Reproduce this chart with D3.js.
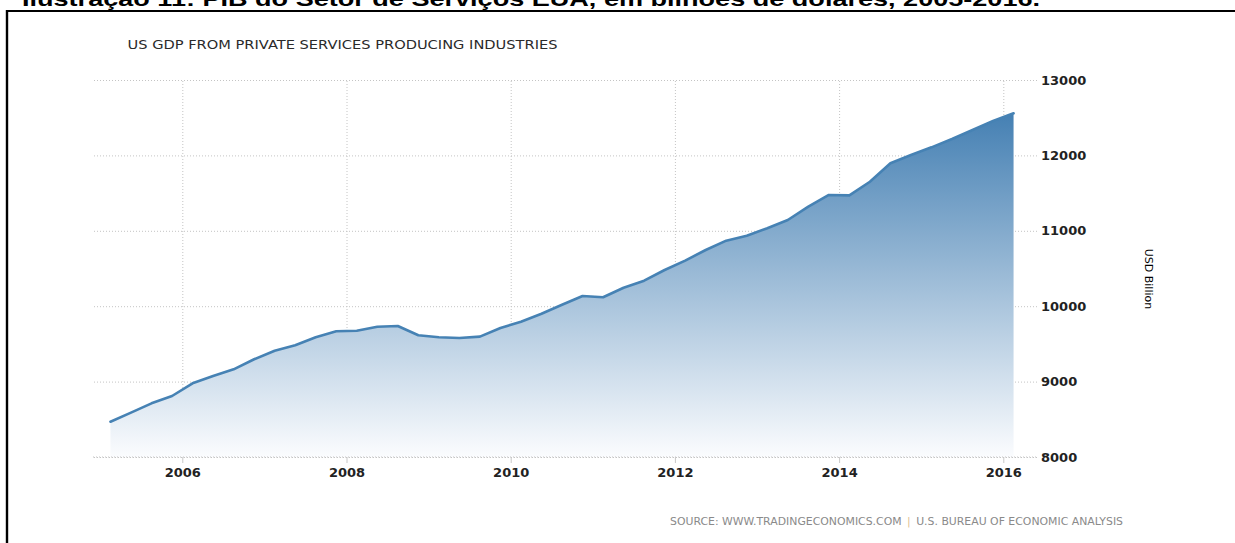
<!DOCTYPE html>
<html>
<head>
<meta charset="utf-8">
<script src="https://cdn.jsdelivr.net/npm/d3@7"></script>
<style>
  html, body { margin: 0; padding: 0; background: #ffffff; }
  svg { display: block; }
</style>
</head>
<body>
<svg id="chart" width="1235" height="543"></svg>
<script>
// ---------- DATA ----------
const periods = [
  "2005Q1","2005Q2","2005Q3","2005Q4",
  "2006Q1","2006Q2","2006Q3","2006Q4",
  "2007Q1","2007Q2","2007Q3","2007Q4",
  "2008Q1","2008Q2","2008Q3","2008Q4",
  "2009Q1","2009Q2","2009Q3","2009Q4",
  "2010Q1","2010Q2","2010Q3","2010Q4",
  "2011Q1","2011Q2","2011Q3","2011Q4",
  "2012Q1","2012Q2","2012Q3","2012Q4",
  "2013Q1","2013Q2","2013Q3","2013Q4",
  "2014Q1","2014Q2","2014Q3","2014Q4",
  "2015Q1","2015Q2","2015Q3","2015Q4",
  "2016Q1"
];
const gdpValues = [
  8468, 8588, 8712, 8809,
  8977, 9074, 9163, 9296,
  9410, 9481, 9588, 9667,
  9675, 9728, 9737, 9614,
  9588, 9578, 9596, 9711,
  9794, 9900, 10020, 10135,
  10118, 10245, 10338, 10480,
  10605, 10745, 10869, 10935,
  11033, 11143, 11320, 11475,
  11470, 11651, 11895, 12005,
  12107, 12218, 12337, 12456,
  12558
];
const xTickYears = [2006, 2008, 2010, 2012, 2014, 2016];
const yTickValues = [8000, 9000, 10000, 11000, 12000, 13000];

const captionText = "Ilustração 11: PIB do Setor de Serviços EUA, em bilhões de dólares, 2005-2016.";
const chartTitle = "US GDP FROM PRIVATE SERVICES PRODUCING INDUSTRIES";
const yAxisTitle = "USD Billion";
const sourceLeft = "SOURCE: WWW.TRADINGECONOMICS.COM";
const sourceSep = "|";
const sourceRight = "U.S. BUREAU OF ECONOMIC ANALYSIS";

// ---------- BUILD ----------
const data = periods.map((p, i) => {
  const yr = +p.slice(0, 4), q = +p.slice(5);
  return { t: yr + (q - 1) / 4 + 0.125, v: gdpValues[i] };
});

const svg = d3.select("#chart");
const plotLeft = 93, plotRight = 1037, plotTop = 80, plotBottom = 457;

const x = d3.scaleLinear().domain([2006, 2016]).range([182.3, 1003.3]);
const y = d3.scaleLinear().domain([8000, 13000]).range([plotBottom, plotTop]);

// Caption (clipped at top as in reference)
svg.append("text")
  .attr("x", 22).attr("y", 6)
  .attr("font-family", "Liberation Sans, Arial, sans-serif")
  .attr("font-weight", "bold")
  .attr("font-size", 21)
  .attr("fill", "#000")
  .attr("textLength", 1018)
  .attr("lengthAdjust", "spacingAndGlyphs")
  .text(captionText);

// Frame lines
svg.append("line").attr("x1", 6).attr("x2", 1235).attr("y1", 11).attr("y2", 11)
  .attr("stroke", "#000").attr("stroke-width", 2);
svg.append("line").attr("x1", 7).attr("x2", 7).attr("y1", 10).attr("y2", 543)
  .attr("stroke", "#000").attr("stroke-width", 2.4);

// Gradient
const maxV = d3.max(gdpValues);
const defs = svg.append("defs");
const grad = defs.append("linearGradient").attr("id", "areaGrad")
  .attr("gradientUnits", "userSpaceOnUse")
  .attr("x1", 0).attr("x2", 0).attr("y1", y(maxV)).attr("y2", plotBottom);
grad.append("stop").attr("offset", 0).attr("stop-color", "#4580b3");
grad.append("stop").attr("offset", 1).attr("stop-color", "#fbfcfe");

// Horizontal gridlines + y labels
const yAxis = d3.axisRight(y).tickValues(yTickValues)
  .tickSize(-(plotRight - plotLeft)).tickPadding(4).tickFormat(d3.format("d"));
const gy = svg.append("g").attr("transform", `translate(${plotRight},0)`).call(yAxis);
gy.select(".domain").remove();
gy.selectAll(".tick line").attr("stroke", "#c4c4c4").attr("stroke-dasharray", "1,2");
gy.selectAll(".tick text")
  .attr("font-family", "DejaVu Sans, Verdana, sans-serif")
  .attr("font-weight", "bold")
  .attr("font-size", 13)
  .attr("fill", "#222");

// Vertical gridlines
const xGrid = d3.axisBottom(x).tickValues(xTickYears).tickSize(-(plotBottom - plotTop)).tickFormat("");
const gxg = svg.append("g").attr("transform", `translate(0,${plotBottom})`).call(xGrid);
gxg.select(".domain").remove();
gxg.selectAll(".tick line").attr("stroke", "#c4c4c4").attr("stroke-dasharray", "1,2");

// Area + line
const area = d3.area().x(d => x(d.t)).y0(plotBottom).y1(d => y(d.v));
const line = d3.line().x(d => x(d.t)).y(d => y(d.v));
svg.append("path").datum(data).attr("d", area).attr("fill", "url(#areaGrad)");
svg.append("path").datum(data).attr("d", line)
  .attr("fill", "none").attr("stroke", "#4682b4").attr("stroke-width", 2.6)
  .attr("stroke-linejoin", "round").attr("stroke-linecap", "round");

// Bottom baseline (dotted) drawn over the area
svg.append("line").attr("x1", plotLeft).attr("x2", plotRight)
  .attr("y1", y(8000)).attr("y2", y(8000))
  .attr("stroke", "#c4c4c4").attr("stroke-dasharray", "1,2");

// X axis ticks + labels
const xAxis = d3.axisBottom(x).tickValues(xTickYears).tickSize(6).tickPadding(5).tickFormat(d3.format("d"));
const gx = svg.append("g").attr("transform", `translate(0,${plotBottom})`).call(xAxis);
gx.select(".domain").remove();
gx.selectAll(".tick line").attr("stroke", "#c8c8c8");
gx.selectAll(".tick text")
  .attr("font-family", "DejaVu Sans, Verdana, sans-serif")
  .attr("font-weight", "bold")
  .attr("font-size", 13)
  .attr("fill", "#222");

// Chart title
svg.append("text")
  .attr("x", 127.5).attr("y", 49)
  .attr("font-family", "DejaVu Sans, Verdana, sans-serif")
  .attr("font-size", 12.5)
  .attr("fill", "#2a2a2a")
  .attr("textLength", 430)
  .attr("lengthAdjust", "spacingAndGlyphs")
  .text(chartTitle);

// Y axis title (rotated)
svg.append("text")
  .attr("transform", "translate(1145,279) rotate(90)")
  .attr("text-anchor", "middle")
  .attr("font-family", "DejaVu Sans, Verdana, sans-serif")
  .attr("font-size", 11)
  .attr("fill", "#000")
  .text(yAxisTitle);

// Source line
const src = svg.append("text")
  .attr("x", 670).attr("y", 525)
  .attr("font-family", "DejaVu Sans, Verdana, sans-serif")
  .attr("font-size", 10)
  .attr("fill", "#8a8a8a");
src.append("tspan").text(sourceLeft);
src.append("tspan").attr("dx", 5).attr("fill", "#e0c090").text(sourceSep);
src.append("tspan").attr("dx", 5).text(sourceRight);
src.attr("textLength", 453).attr("lengthAdjust", "spacingAndGlyphs");
</script>
</body>
</html>
